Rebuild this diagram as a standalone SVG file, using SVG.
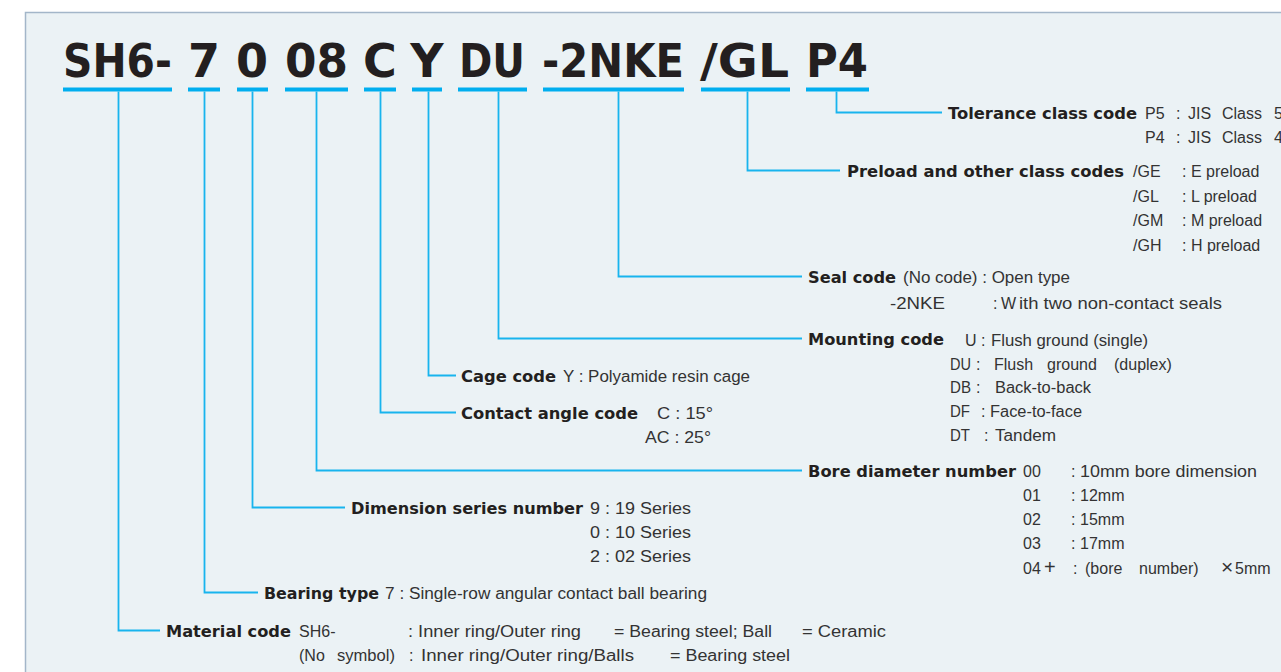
<svg xmlns="http://www.w3.org/2000/svg" width="1281" height="672" viewBox="0 0 1281 672">
<style>
.code{font-family:"DejaVu Sans","Liberation Sans",sans-serif;font-weight:bold;font-size:46px;fill:#231F20}
.ul{stroke:#00AEEF;stroke-width:4}
.con{fill:none;stroke:#18B4EE;stroke-width:1.8}
.lb{font-family:"DejaVu Sans","Liberation Sans",sans-serif;font-weight:bold;font-size:16px;fill:#231F20}
.tx{font-family:"Liberation Sans","DejaVu Sans",sans-serif;font-size:16px;fill:#333333}
</style>
<rect x="0" y="0" width="1281" height="672" fill="#FFFFFF"/>
<rect x="25.5" y="12.5" width="1300" height="700" fill="#EBF2F5" stroke="#A3B6C9" stroke-width="1.5"/>

<g id="code">
  <g id="code-sh6"><text class="code" x="63" y="77" textLength="109" lengthAdjust="spacingAndGlyphs">SH6-</text><line class="ul" x1="63" y1="89.5" x2="172" y2="89.5"/></g>
  <g id="code-7"><text class="code" x="204" y="77" text-anchor="middle">7</text><line class="ul" x1="188" y1="89.5" x2="220" y2="89.5"/></g>
  <g id="code-0"><text class="code" x="252" y="77" text-anchor="middle">0</text><line class="ul" x1="237" y1="89.5" x2="268" y2="89.5"/></g>
  <g id="code-08"><text class="code" x="285" y="77" textLength="63" lengthAdjust="spacingAndGlyphs">08</text><line class="ul" x1="285" y1="89.5" x2="348" y2="89.5"/></g>
  <g id="code-c"><text class="code" x="380" y="77" text-anchor="middle">C</text><line class="ul" x1="364" y1="89.5" x2="396" y2="89.5"/></g>
  <g id="code-y"><text class="code" x="427" y="77" text-anchor="middle">Y</text><line class="ul" x1="412" y1="89.5" x2="442" y2="89.5"/></g>
  <g id="code-du"><text class="code" x="459" y="77" textLength="66" lengthAdjust="spacingAndGlyphs">DU</text><line class="ul" x1="458" y1="89.5" x2="527" y2="89.5"/></g>
  <g id="code-2nke"><text class="code" x="542" y="77" textLength="142" lengthAdjust="spacingAndGlyphs">-2NKE</text><line class="ul" x1="543" y1="89.5" x2="684" y2="89.5"/></g>
  <g id="code-gl"><text class="code" x="700" y="77" textLength="89" lengthAdjust="spacingAndGlyphs">/GL</text><line class="ul" x1="701" y1="89.5" x2="790" y2="89.5"/></g>
  <g id="code-p4"><text class="code" x="806" y="77" textLength="62" lengthAdjust="spacingAndGlyphs">P4</text><line class="ul" x1="806" y1="89.5" x2="869" y2="89.5"/></g>
</g>

<g id="connectors">
  <path class="con" d="M836.5 91.5 V112.5 H942"/>
  <path class="con" d="M747.5 91.5 V170.5 H840"/>
  <path class="con" d="M618.5 91.5 V276.5 H802"/>
  <path class="con" d="M498.5 91.5 V338.5 H802"/>
  <path class="con" d="M428.5 91.5 V375.5 H456"/>
  <path class="con" d="M380.5 91.5 V412.5 H456"/>
  <path class="con" d="M316.5 91.5 V470.5 H802"/>
  <path class="con" d="M252.5 91.5 V507.5 H345"/>
  <path class="con" d="M204.5 91.5 V592.5 H258"/>
  <path class="con" d="M118.5 91.5 V630.5 H160"/>
</g>

<g id="tolerance">
  <text class="lb" x="948" y="119" textLength="189" lengthAdjust="spacingAndGlyphs">Tolerance class code</text>
  <text class="tx" y="119"><tspan x="1145">P5</tspan><tspan x="1176">:</tspan><tspan x="1188">JIS</tspan><tspan x="1222">Class</tspan><tspan x="1274">5</tspan></text>
  <text class="tx" y="143"><tspan x="1145">P4</tspan><tspan x="1176">:</tspan><tspan x="1188">JIS</tspan><tspan x="1222">Class</tspan><tspan x="1274">4</tspan></text>
</g>

<g id="preload">
  <text class="lb" x="847" y="177" textLength="277" lengthAdjust="spacingAndGlyphs">Preload and other class codes</text>
  <text class="tx" y="177"><tspan x="1133">/GE</tspan><tspan x="1182">: E preload</tspan></text>
  <text class="tx" y="201.5"><tspan x="1133">/GL</tspan><tspan x="1182">: L preload</tspan></text>
  <text class="tx" y="226"><tspan x="1133">/GM</tspan><tspan x="1182">: M preload</tspan></text>
  <text class="tx" y="250.5"><tspan x="1133">/GH</tspan><tspan x="1182">: H preload</tspan></text>
</g>

<g id="seal">
  <text class="lb" x="808" y="283" textLength="88" lengthAdjust="spacingAndGlyphs">Seal code</text>
  <text class="tx" x="903" y="283" textLength="167" lengthAdjust="spacingAndGlyphs">(No code) : Open type</text>
  <text class="tx" x="890" y="309" textLength="55" lengthAdjust="spacingAndGlyphs">-2NKE</text>
  <text class="tx" y="309"><tspan x="993">:</tspan><tspan x="1001">W</tspan></text>
  <text class="tx" x="1019" y="309" textLength="203" lengthAdjust="spacingAndGlyphs">ith two non-contact seals</text>
</g>

<g id="mounting">
  <text class="lb" x="808" y="345" textLength="136" lengthAdjust="spacingAndGlyphs">Mounting code</text>
  <text class="tx" y="346"><tspan x="965">U</tspan><tspan x="981">:</tspan></text>
  <text class="tx" x="991" y="346" textLength="157" lengthAdjust="spacingAndGlyphs">Flush ground (single)</text>
  <text class="tx" x="950" y="370" textLength="21" lengthAdjust="spacingAndGlyphs">DU</text>
  <text class="tx" y="370"><tspan x="976">:</tspan><tspan x="994">Flush</tspan><tspan x="1047">ground</tspan><tspan x="1114">(duplex)</tspan></text>
  <text class="tx" x="950" y="393" textLength="21" lengthAdjust="spacingAndGlyphs">DB</text>
  <text class="tx" y="393"><tspan x="976">:</tspan></text>
  <text class="tx" x="995" y="393" textLength="96" lengthAdjust="spacingAndGlyphs">Back-to-back</text>
  <text class="tx" x="950" y="417" textLength="20" lengthAdjust="spacingAndGlyphs">DF</text>
  <text class="tx" y="417"><tspan x="981">:</tspan></text>
  <text class="tx" x="990" y="417" textLength="92" lengthAdjust="spacingAndGlyphs">Face-to-face</text>
  <text class="tx" x="950" y="441" textLength="20" lengthAdjust="spacingAndGlyphs">DT</text>
  <text class="tx" y="441"><tspan x="984">:</tspan></text>
  <text class="tx" x="995" y="441" textLength="61" lengthAdjust="spacingAndGlyphs">Tandem</text>
</g>

<g id="cage">
  <text class="lb" x="461" y="382" textLength="95" lengthAdjust="spacingAndGlyphs">Cage code</text>
  <text class="tx" x="563" y="382" textLength="187" lengthAdjust="spacingAndGlyphs">Y : Polyamide resin cage</text>
</g>

<g id="contact">
  <text class="lb" x="461" y="419" textLength="177" lengthAdjust="spacingAndGlyphs">Contact angle code</text>
  <text class="tx" x="657" y="419" textLength="56" lengthAdjust="spacingAndGlyphs">C : 15°</text>
  <text class="tx" x="645" y="443" textLength="66" lengthAdjust="spacingAndGlyphs">AC : 25°</text>
</g>

<g id="bore">
  <text class="lb" x="808" y="477" textLength="208" lengthAdjust="spacingAndGlyphs">Bore diameter number</text>
  <text class="tx" y="477"><tspan x="1023">00</tspan><tspan x="1071">:</tspan></text>
  <text class="tx" x="1080" y="477" textLength="177" lengthAdjust="spacingAndGlyphs">10mm bore dimension</text>
  <text class="tx" y="501"><tspan x="1023">01</tspan><tspan x="1071">:</tspan><tspan x="1080">12mm</tspan></text>
  <text class="tx" y="525"><tspan x="1023">02</tspan><tspan x="1071">:</tspan><tspan x="1080">15mm</tspan></text>
  <text class="tx" y="549"><tspan x="1023">03</tspan><tspan x="1071">:</tspan><tspan x="1080">17mm</tspan></text>
  <text class="tx" y="574"><tspan x="1023">04</tspan><tspan x="1044" font-size="20">+</tspan><tspan x="1073">:</tspan><tspan x="1085">(bore</tspan><tspan x="1139">number)</tspan><tspan x="1221" font-size="21">×</tspan><tspan x="1235">5mm</tspan></text>
</g>

<g id="dimension">
  <text class="lb" x="351" y="514" textLength="232" lengthAdjust="spacingAndGlyphs">Dimension series number</text>
  <text class="tx" x="590" y="514" textLength="101" lengthAdjust="spacingAndGlyphs">9 : 19 Series</text>
  <text class="tx" x="590" y="538" textLength="101" lengthAdjust="spacingAndGlyphs">0 : 10 Series</text>
  <text class="tx" x="590" y="562" textLength="101" lengthAdjust="spacingAndGlyphs">2 : 02 Series</text>
</g>

<g id="bearing">
  <text class="lb" x="264" y="599" textLength="115" lengthAdjust="spacingAndGlyphs">Bearing type</text>
  <text class="tx" x="385" y="599" textLength="322" lengthAdjust="spacingAndGlyphs">7 : Single-row angular contact ball bearing</text>
</g>

<g id="material">
  <text class="lb" x="166" y="637" textLength="125" lengthAdjust="spacingAndGlyphs">Material code</text>
  <text class="tx" x="299" y="637">SH6-</text>
  <text class="tx" x="408" y="637" textLength="173" lengthAdjust="spacingAndGlyphs">: Inner ring/Outer ring</text>
  <text class="tx" x="614" y="637" textLength="158" lengthAdjust="spacingAndGlyphs">= Bearing steel; Ball</text>
  <text class="tx" x="802" y="637" textLength="84" lengthAdjust="spacingAndGlyphs">= Ceramic</text>
  <text class="tx" y="661"><tspan x="299">(No</tspan><tspan x="409">:</tspan></text>
  <text class="tx" x="337" y="661" textLength="58" lengthAdjust="spacingAndGlyphs">symbol)</text>
  <text class="tx" x="421" y="661" textLength="213" lengthAdjust="spacingAndGlyphs">Inner ring/Outer ring/Balls</text>
  <text class="tx" x="670" y="661" textLength="120" lengthAdjust="spacingAndGlyphs">= Bearing steel</text>
</g>
</svg>
